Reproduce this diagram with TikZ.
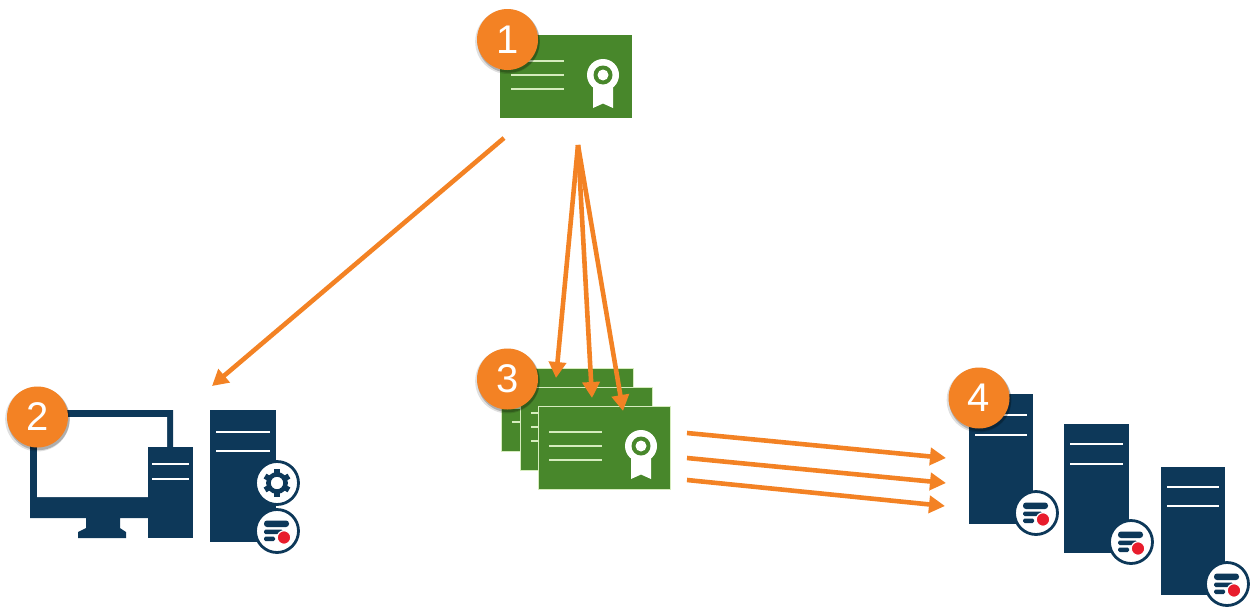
\documentclass[tikz,border=0pt]{standalone}
\usepackage{fontspec}
\setmainfont{Liberation Sans}
\usetikzlibrary{arrows.meta,calc,shadows,positioning}
\definecolor{certGreen}{RGB}{72,135,43}
\definecolor{certPale}{RGB}{214,236,190}
\definecolor{towerNavy}{RGB}{13,56,89}
\definecolor{stepOrange}{RGB}{243,130,36}
\definecolor{dotRed}{RGB}{232,28,44}
\tikzset{
  >={Triangle[length=16pt,width=17pt]},
  certNode/.style={
    rectangle,fill=certGreen,minimum width=132pt,minimum height=83pt,inner sep=0pt,outer sep=0pt,anchor=north west,
    path picture={
      % three text lines (measured from the centre of the node)
      \foreach \ly in {-15.5,-1.5,12.5} {\draw[certPale,line width=1.2pt] (-55,\ly) -- (-2,\ly);}
      % seal with ribbon
      \fill[white] (27,6.5) -- (27,31.5) -- (37,27) -- (47,31.5) -- (47,6.5) -- cycle;
      \fill[white] (37,-1.5) circle (16pt);
      \fill[certGreen] (37,-1.5) circle (9.5pt);
      \fill[white] (37,-1.5) circle (5.5pt);
    }
  },
  certStacked/.style={certNode,draw=certPale,line width=1pt},
  towerNode/.style n args={3}{
    rectangle,fill=towerNavy,inner sep=0pt,outer sep=0pt,anchor=north west,
    path picture={
      \foreach \ly in {#1,#2} {
        \draw[white,line width=2.8pt]
          ($(path picture bounding box.north west)+(#3,\ly)$) -- ($(path picture bounding box.north east)+(-#3,\ly)$);
      }
    }
  },
  badgeNode/.style={circle,draw=towerNavy,fill=white,line width=2.8pt,minimum size=43pt,inner sep=0pt},
  dataBadge/.style={
    badgeNode,
    path picture={
      \fill[towerNavy,rounded corners=3pt] (-13,-10.5) rectangle (12,-4);
      \fill[towerNavy,rounded corners=1.5pt] (-13,-1.5) rectangle (6,3);
      \fill[towerNavy,rounded corners=1.5pt] (-13,5.5) rectangle (-2,10);
      \fill[dotRed,draw=white,line width=1.2pt] (7,6.5) circle (6.8pt);
    }
  },
  gearBadge/.style={
    badgeNode,
    path picture={
      \draw[towerNavy,line width=4.6pt] (0,0) circle (8.6pt);
      \foreach \a in {30,90,...,330} {\draw[towerNavy,line width=5.5pt] (\a:9) -- (\a:13.8);}
    }
  },
  stepBadge/.style={
    circle,fill=stepOrange,minimum size=61pt,inner sep=0pt,text=white,
    font=\fontsize{40}{40}\selectfont,
    drop shadow={shadow xshift=0pt,shadow yshift=-2pt,shadow scale=1.06,opacity=.12,fill=black},
    drop shadow={shadow xshift=1pt,shadow yshift=-2pt,shadow scale=1.02,opacity=.22,fill=black}
  },
  flowArrow/.style={->,draw=stepOrange,line width=4.6pt},
}
\begin{document}
\begin{tikzpicture}[x=1pt,y=-1pt]
\useasboundingbox (0,0) rectangle (1250,608);

% ===== Root certificate =====
\node[certNode] (certRoot) at (500,35) {};

% ===== Management computer and server =====
\fill[towerNavy] (30,410) -- (173,410) -- (173,518) -- (120,518) -- (120,528) -- (126,532) -- (126,538)
  -- (78,538) -- (78,532) -- (86,528) -- (86,518) -- (30,518) -- cycle;
\fill[white] (37,417) -- (167,417) -- (167,447) -- (148,447) -- (148,497) -- (37,497) -- cycle;
\node[towerNode={17}{32}{4},minimum width=45pt,minimum height=91pt] (pcTower) at (148,447) {};
\node[towerNode={22}{41}{6},minimum width=66pt,minimum height=132pt] (mgmtTower) at (210,410) {};
\node[gearBadge] (mgmtGear) at (277,483) {};
\node[dataBadge] (mgmtData) at (277,531) {};

% ===== Certificate stack =====
\node[certStacked] (certBack) at (501,368) {};
\node[certStacked] (certMiddle) at (520,387) {};
\node[certStacked] (certFront) at (538,406) {};

% ===== Recording servers =====
\node[towerNode={21}{41}{6},minimum width=64pt,minimum height=130pt] (towerA) at (969,394) {};
\node[towerNode={20}{40}{6},minimum width=65pt,minimum height=129pt] (towerB) at (1064,424) {};
\node[towerNode={20}{39}{6},minimum width=64pt,minimum height=128pt] (towerC) at (1161,467) {};
\node[dataBadge] (dataA) at (1036,513) {};
\node[dataBadge] (dataB) at (1131,542) {};
\node[dataBadge] (dataC) at (1227,584) {};

% ===== Arrow ends =====
\coordinate (rootLeft) at (504,138);
\coordinate (rootDown) at (578,145);
\coordinate (mgmtIn) at (212,386);
\coordinate (backIn) at (556,378);
\coordinate (middleIn) at (592,398);
\coordinate (frontIn) at (623,411);
\foreach \n/\xa/\ya/\xb/\yb in {1/687/433/946/458,2/687/458/946/483,3/687/480/945/506} {
  \coordinate (stackOut\n) at (\xa,\ya);
  \coordinate (towerIn\n) at (\xb,\yb);
}

% ===== Connections =====
\draw[flowArrow] (rootLeft) -- (mgmtIn);
\draw[flowArrow] (rootDown) -- (backIn);
\draw[flowArrow] (rootDown) -- (middleIn);
\draw[flowArrow] (rootDown) -- (frontIn);
\foreach \n in {1,2,3} {\draw[flowArrow] (stackOut\n) -- (towerIn\n);}

% ===== Step numbers =====
\node[stepBadge] (stepOne) at (507.5,39.5) {1};
\node[stepBadge] (stepTwo) at (37.5,417) {2};
\node[stepBadge] (stepThree) at (507.5,379) {3};
\node[stepBadge] (stepFour) at (979,398) {4};

\end{tikzpicture}
\end{document}
